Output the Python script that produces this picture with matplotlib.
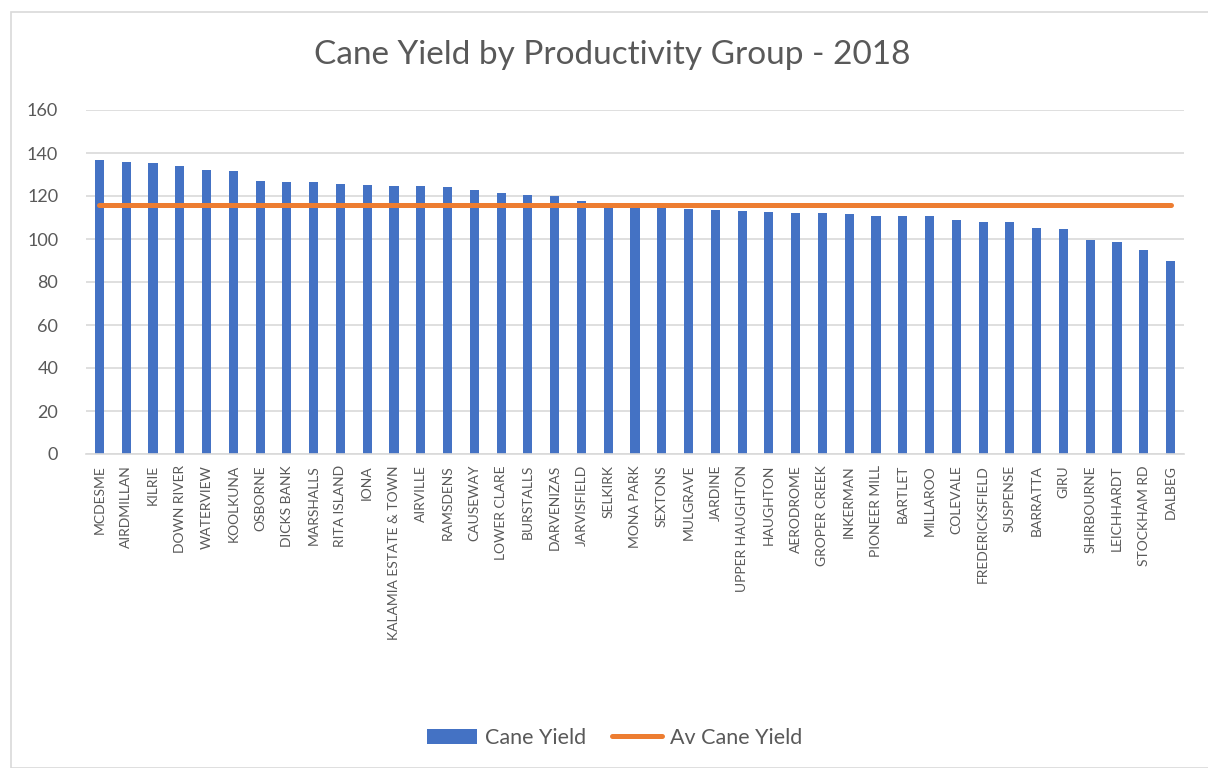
import matplotlib
matplotlib.use("Agg")
import matplotlib.pyplot as plt
from matplotlib.patches import Rectangle
import numpy as np

plt.rcParams['font.family'] = ['Lato', 'DejaVu Sans']

groups = ["MCDESME", "AIRDMILLAN", "KILRIE", "DOWN RIVER", "WATERVIEW", "KOOLKUNA",
          "OSBORNE", "DICKS BANK", "MARSHALLS", "RITA ISLAND", "IONA",
          "KALAMIA ESTATE & TOWN", "AIRVILLE", "RAMSDENS", "CAUSEWAY", "LOWER CLARE",
          "BURSTALLS", "DARVENIZAS", "JARVISFIELD", "SELKIRK", "MONA PARK", "SEXTONS",
          "MULGRAVE", "JARDINE", "UPPER HAUGHTON", "HAUGHTON", "AERODROME",
          "GROPER CREEK", "INKERMAN", "PIONEER MILL", "BARTLET", "MILLAROO",
          "COLEVALE", "FREDERICKSFIELD", "SUSPENSE", "BARRATTA", "GIRU",
          "SHIRBOURNE", "LEICHHARDT", "STOCKHAM RD", "DALBEG"]
cane_yield = [136.8, 135.6, 135.4, 134.1, 132.0, 131.8, 127.2, 126.7, 126.5, 125.7,
              125.2, 124.8, 124.5, 124.2, 122.9, 121.4, 120.6, 120.1, 117.9, 115.1,
              114.8, 114.3, 113.8, 113.4, 113.1, 112.7, 112.3, 112.0, 111.6, 110.7,
              110.6, 110.6, 108.9, 108.0, 107.7, 105.2, 104.7, 99.6, 98.6, 94.9, 90.0]
av_cane_yield = 115.8

blue = "#4472C4"
orange = "#ED7D31"
grey = "#595959"

fig = plt.figure(figsize=(12.08, 7.68), dpi=100)
fig.patches.append(Rectangle((11 / 1208, 0.0), 1.1, 1 - 12 / 768, transform=fig.transFigure,
                             fill=False, edgecolor="#d9d9d9", linewidth=1.2))

ax = fig.add_axes([86 / 1208, 1 - 454 / 768, (1184 - 86) / 1208, (454 - 110) / 768])

x = np.arange(len(groups))
bars = ax.bar(x, cane_yield, width=0.34, color=blue, label="Cane Yield", zorder=2)
line, = ax.plot(x, [av_cane_yield] * len(groups), color=orange, linewidth=3.6,
                solid_capstyle="round", label="Av Cane Yield", zorder=3)

ax.set_xlim(-0.5, len(groups) - 0.5)
ax.set_ylim(0, 160)
ax.set_yticks(range(0, 161, 20))
ax.grid(axis="y", color="#d9d9d9", linewidth=1.2, zorder=0)
ax.set_axisbelow(True)
for s in ["top", "right", "left"]:
    ax.spines[s].set_visible(False)
ax.spines["bottom"].set_color("#d9d9d9")
ax.spines["bottom"].set_linewidth(1.2)

ax.set_xticks(x)
ax.set_xticklabels(groups, rotation=90, fontsize=10, color=grey, va="top", ha="center")
ax.tick_params(axis="x", length=0, pad=8)
ax.tick_params(axis="y", length=0, pad=20, labelsize=13, labelcolor=grey)

fig.text(0.507, 1 - 55 / 768, "Cane Yield by Productivity Group - 2018", ha="center",
         va="center", fontsize=24, color=grey)

fig.legend([bars, line], ["Cane Yield", "Av Cane Yield"], loc="center",
           bbox_to_anchor=(615 / 1208, 1 - 738 / 768), ncol=2, frameon=False,
           fontsize=15.5, labelcolor=grey, handlelength=2.3, columnspacing=1.2,
           handletextpad=0.4)

fig.savefig("out.png", dpi=100)
